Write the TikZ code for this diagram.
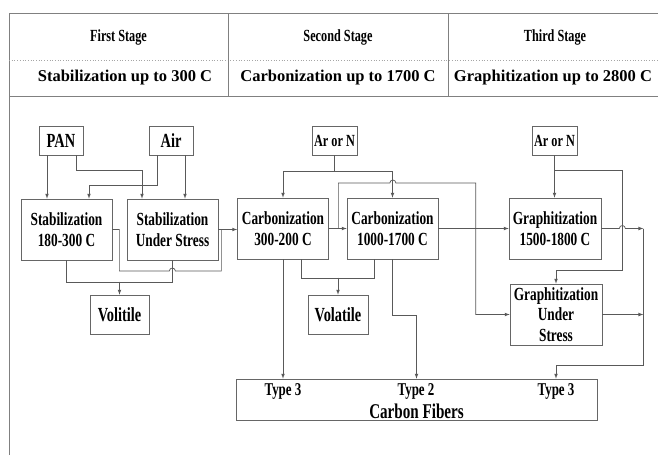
\documentclass[tikz,border=0pt]{standalone}
\usepackage{fontspec}
\setmainfont{Liberation Serif}
\newfontfamily\narrowfont[FakeStretch=0.72]{Liberation Serif}

\begin{document}
\begin{tikzpicture}[x=1pt,y=-1pt,
  rule/.style={draw=black!50,line width=0.7pt},
  box/.style={draw=black!60,line width=0.7pt,inner sep=0pt,align=center,
    font=\narrowfont\bfseries\fontsize{18.5}{20.5}\selectfont},
  tag/.style={inner sep=0pt,align=center,font=\narrowfont\bfseries\fontsize{18}{20}\selectfont},
  link/.style={draw=black!65,line width=0.7pt},
  arr/.style={link,-latex}]
  \useasboundingbox[fill=white] (0,0) rectangle (658,455);
  % stage table
  \draw[rule] (9,455) -- (9,13) -- (658,13);
  \draw[rule] (9,96) -- (658,96);
  \draw[black!35,dotted,line width=0.7pt] (9,60) -- (658,60);
  \foreach \x in {228,448}
    \draw[rule] (\x,13) -- (\x,96);
  \node[tag,font=\narrowfont\bfseries\fontsize{17}{19}\selectfont] (stageA) at (118.5,37) {First Stage};
  \node[tag,font=\narrowfont\bfseries\fontsize{17}{19}\selectfont] (stageB) at (338,37) {Second Stage};
  \node[tag,font=\narrowfont\bfseries\fontsize{17}{19}\selectfont] (stageC) at (555,37) {Third Stage};
  \node[tag,font=\bfseries\fontsize{16.5}{19}\selectfont] (tempA) at (125,78) {Stabilization up to 300 C};
  \node[tag,font=\bfseries\fontsize{16.5}{19}\selectfont] (tempB) at (338,78) {Carbonization up to 1700 C};
  \node[tag,font=\bfseries\fontsize{16.5}{19}\selectfont] (tempC) at (553,78) {Graphitization up to 2800 C};

  % first stage
  \node[box,minimum width=44pt,minimum height=29pt,font=\narrowfont\bfseries\fontsize{20}{22}\selectfont] (pan) at (61,140.5) {PAN};
  \node[box,minimum width=44pt,minimum height=29pt,font=\narrowfont\bfseries\fontsize{20}{22}\selectfont] (air) at (171,140.5) {Air};
  \node[box,minimum width=91pt,minimum height=61pt] (stabA) at (66.5,229.5) {Stabilization\\180-300 C};
  \node[box,minimum width=91pt,minimum height=61pt] (stabB) at (172.5,229.5) {Stabilization\\Under Stress};
  \node[box,minimum width=59pt,minimum height=39pt,font=\narrowfont\bfseries\fontsize{20}{22}\selectfont] (volA) at (119.5,314.5) {Volitile};

  % second stage
  \node[box,minimum width=45pt,minimum height=29pt,font=\narrowfont\bfseries\fontsize{17}{19}\selectfont] (arA) at (334.5,140.5) {Ar or N};
  \node[box,minimum width=91pt,minimum height=61pt] (carbA) at (283,228.5) {Carbonization\\300-200 C};
  \node[box,minimum width=91pt,minimum height=61pt] (carbB) at (392.5,228.5) {Carbonization\\1000-1700 C};
  \node[box,minimum width=60pt,minimum height=39pt,font=\narrowfont\bfseries\fontsize{20}{22}\selectfont] (volB) at (338,314.5) {Volatile};

  % third stage
  \node[box,minimum width=45pt,minimum height=29pt,font=\narrowfont\bfseries\fontsize{17}{19}\selectfont] (arB) at (554.5,140.5) {Ar or N};
  \node[box,minimum width=92pt,minimum height=61pt] (graphA) at (555,228.5) {Graphitization\\1500-1800 C};
  \node[box,minimum width=92pt,minimum height=61pt] (graphB) at (556,314.5) {Graphitization\\Under\\Stress};

  % product
  \node[box,minimum width=361pt,minimum height=41pt] (fibers) at (416.5,399.5) {};
  \node[tag] (typeA) at (283,391) {Type 3};
  \node[tag] (typeB) at (416,391) {Type 2};
  \node[tag] (typeC) at (556,391) {Type 3};
  \node[tag,font=\narrowfont\bfseries\fontsize{21}{23}\selectfont] (fiberlabel) at (416.5,411) {Carbon Fibers};

  \coordinate (railtop) at ([xshift=42pt]graphA.east);

  % first stage links
  \draw[arr] ([xshift=-14pt]pan.south) -- ([xshift=-14pt]pan.south |- stabA.north);
  \draw[arr] ([xshift=15pt]pan.south) -- ++(0,15) -| ([xshift=-30.5pt]stabB.north);
  \draw[arr] ([xshift=-14pt]air.south) -- ++(0,30) -| ([xshift=22.5pt]stabA.north);
  \draw[arr] ([xshift=14pt]air.south) -- ([xshift=14pt]air.south |- stabB.north);
  \draw[link] (stabA.south) -- ++(0,22) -| (stabB.south);
  \draw[arr] (volA.north) ++(0,-13) -- (volA.north);
  \draw[link] (stabA.east) -- ++(7,0) -- ++(0,41.5) -- ++(50,0) arc (180:0:3pt) -- ++(46,0) -- ++(0,-41.5);
  \draw[arr] (stabB.east) -- (stabB.east -| carbA.west);

  % second stage links
  \draw[arr] (arA.south) -- ++(0,16) -| (carbA.north);
  \draw[arr] (arA.south) -- ++(0,16) -| (carbB.north);
  \draw[arr] (carbA.east) -- (carbB.west);
  \draw[arr] ([xshift=9.5pt]carbA.east) -- ++(0,-45.5) -- ++(51.5,0) arc (180:0:3pt) -| ([xshift=-34pt]graphB.west) -- (graphB.west);
  \draw[link] ([xshift=18pt]carbA.south) -- ++(0,19) -| ([xshift=-18.5pt]carbB.south);
  \draw[arr] (volB.north) ++(0,-17) -- (volB.north);
  \draw[arr] (carbA.south) -- (carbA.south |- fibers.north);
  \draw[arr] (carbB.south) -- ++(0,56) -| (fibers.north);
  \draw[arr] (carbB.east) -- (graphA.west);

  % third stage links
  \draw[arr] (arB.south) -- (arB.south |- graphA.north);
  \draw[arr] (arB.south) -- ++(0,15) -| ([xshift=20pt,yshift=13pt]graphB.north east) -| (graphB.north);
  \draw[arr] (graphA.east) -- ++(18,0) arc (180:0:3pt) -- (railtop);
  \draw[arr] (graphB.east) -- (graphB.east -| railtop);
  \draw[arr] (railtop) -- ++(0,136.5) -| (graphB.south |- fibers.north);
\end{tikzpicture}
\end{document}
